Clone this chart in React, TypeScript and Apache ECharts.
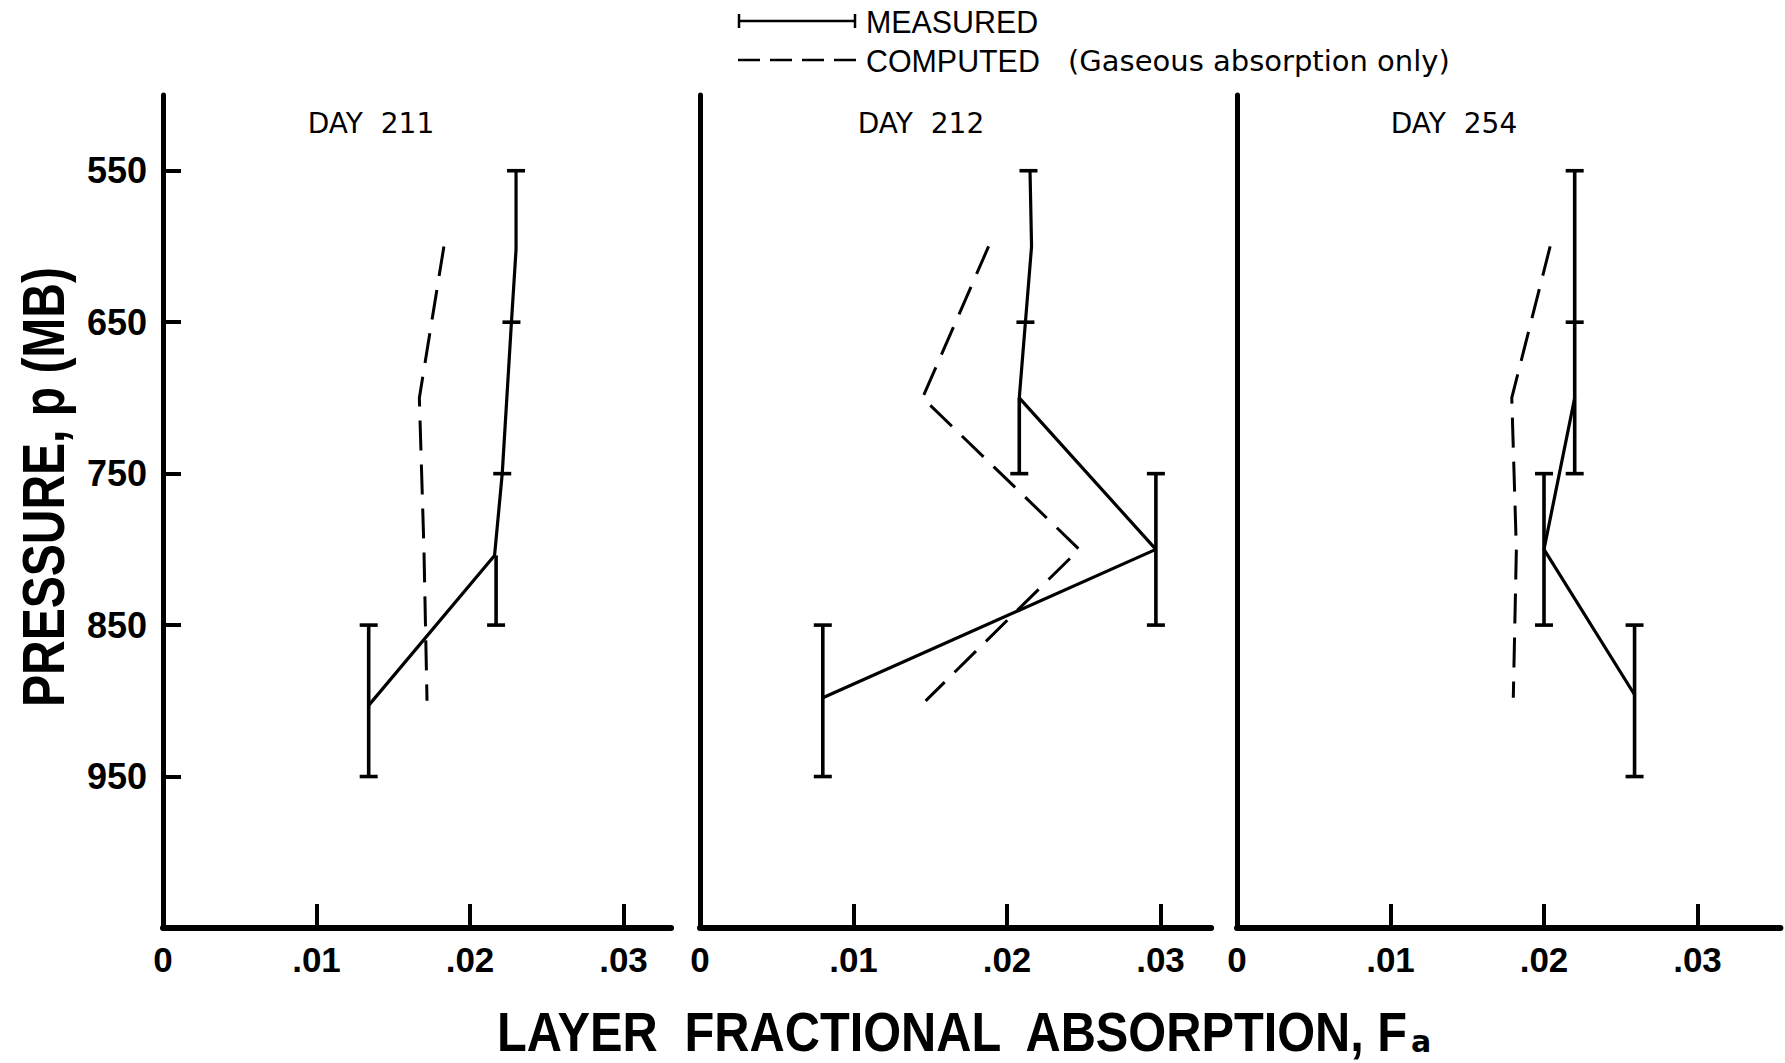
import React, { useEffect, useRef } from "react";
import * as echarts from "echarts";

// ---------- data ----------
const X_TICKS = [0.01, 0.02, 0.03];
const X_LABELS = [0, 0.01, 0.02, 0.03];
const P_TICKS = [550, 650, 750, 850, 950];
const P_MIN = 500;
const P_MAX = 1050;
const X_MAX = [0.0331, 0.0333, 0.0354];
const PANEL_TITLES = ["DAY  211", "DAY  212", "DAY  254"];

// measured (solid) polylines: [F_a, p]
const measured211 = [[0.0230, 550], [0.0230, 602], [0.0227, 650], [0.0221, 750], [0.0216, 804], [0.0134, 903]];
const measured212 = [[0.0215, 550], [0.0216, 600], [0.0212, 650], [0.0208, 700], [0.0297, 800], [0.0080, 898]];
const measured254 = [[0.0220, 700], [0.0200, 800], [0.0259, 896]];

// vertical bars: [F_a, pTop, pBottom]
const bars211 = [[0.0217, 804, 850], [0.0134, 850, 950]];
const bars212 = [[0.0208, 700, 750], [0.0297, 750, 850], [0.0080, 850, 950]];
const bars254 = [[0.0220, 550, 750], [0.0200, 750, 850], [0.0259, 850, 950]];

// cap / cross marks: [F_a, p]
const caps211 = [[0.0230, 550], [0.0227, 650], [0.0221, 750], [0.0217, 850], [0.0134, 850], [0.0134, 950]];
const caps212 = [[0.0214, 550], [0.0212, 650], [0.0208, 750], [0.0297, 750], [0.0297, 850], [0.0080, 850], [0.0080, 950]];
const caps254 = [[0.0220, 550], [0.0220, 650], [0.0220, 750], [0.0200, 750], [0.0200, 850], [0.0259, 850], [0.0259, 950]];

// computed (dashed): [F_a, p]
const computed211 = [[0.0183, 600], [0.0167, 700], [0.0170, 800], [0.0172, 900]];
const computed212 = [[0.0188, 600], [0.0145, 700], [0.0247, 800], [0.0147, 900]];
const computed254 = [[0.0204, 600], [0.0179, 700], [0.0182, 800], [0.0180, 898]];

const MEASURED = [measured211, measured212, measured254];
const BARS = [bars211, bars212, bars254];
const CAPS = [caps211, caps212, caps254];
const COMPUTED = [computed211, computed212, computed254];

// ---------- layout ----------
const PX_PER_UNIT = 15350;
const GRID_LEFT = [163, 700, 1237];
const GRID_TOP = 95;
const GRID_HEIGHT = 833;
const TITLE_X = [371, 921, 1454];
const BLACK = "#000";
const SANS = "'Liberation Sans', Arial, sans-serif";
const GEO = "'DejaVu Sans', sans-serif";

function fmtX(v: number) {
  if (v === 0) return "0";
  return v.toFixed(2).replace(/^0/, "");
}

function buildOption() {
  const grids: any[] = [];
  const xAxes: any[] = [];
  const yAxes: any[] = [];
  const series: any[] = [];

  for (let i = 0; i < 3; i++) {
    grids.push({
      left: GRID_LEFT[i],
      top: GRID_TOP,
      width: X_MAX[i] * PX_PER_UNIT,
      height: GRID_HEIGHT,
      containLabel: false,
    });
    xAxes.push({
      type: "value",
      gridIndex: i,
      min: 0,
      max: X_MAX[i],
      splitLine: { show: false },
      axisLine: { show: true, lineStyle: { color: BLACK, width: 6 } },
      axisTick: {
        show: true,
        inside: true,
        length: 24,
        customValues: X_TICKS,
        lineStyle: { color: BLACK, width: 4 },
      },
      axisLabel: {
        show: true,
        customValues: X_LABELS,
        formatter: (v: number) => fmtX(v),
        color: BLACK,
        fontFamily: SANS,
        fontWeight: "bold",
        fontSize: 35,
        margin: 14,
      },
    });
    yAxes.push({
      type: "value",
      gridIndex: i,
      inverse: true,
      min: P_MIN,
      max: P_MAX,
      splitLine: { show: false },
      axisLine: { show: true, onZero: false, lineStyle: { color: BLACK, width: 5 } },
      axisTick: {
        show: i === 0,
        inside: true,
        length: 18,
        customValues: P_TICKS,
        lineStyle: { color: BLACK, width: 4 },
      },
      axisLabel: {
        show: i === 0,
        customValues: P_TICKS,
        color: BLACK,
        fontFamily: SANS,
        fontWeight: "bold",
        fontSize: 36,
        margin: 16,
      },
    });

    series.push({
      type: "line",
      xAxisIndex: i,
      yAxisIndex: i,
      data: COMPUTED[i],
      symbol: "none",
      silent: true,
      lineStyle: { color: BLACK, width: 3, type: [30, 14] },
    });
    series.push({
      type: "line",
      xAxisIndex: i,
      yAxisIndex: i,
      data: MEASURED[i],
      symbol: "none",
      silent: true,
      lineStyle: { color: BLACK, width: 3.2 },
    });
    series.push({
      type: "custom",
      xAxisIndex: i,
      yAxisIndex: i,
      coordinateSystem: "cartesian2d",
      silent: true,
      clip: false,
      data: BARS[i],
      renderItem: (_p: any, api: any) => {
        const a = api.coord([api.value(0), api.value(1)]);
        const b = api.coord([api.value(0), api.value(2)]);
        return {
          type: "line",
          shape: { x1: a[0], y1: a[1], x2: b[0], y2: b[1] },
          style: { stroke: BLACK, lineWidth: 3.6 },
        };
      },
    });
    series.push({
      type: "custom",
      xAxisIndex: i,
      yAxisIndex: i,
      coordinateSystem: "cartesian2d",
      silent: true,
      clip: false,
      data: CAPS[i],
      renderItem: (_p: any, api: any) => {
        const c = api.coord([api.value(0), api.value(1)]);
        return {
          type: "line",
          shape: { x1: c[0] - 9, y1: c[1], x2: c[0] + 9, y2: c[1] },
          style: { stroke: BLACK, lineWidth: 3.6 },
        };
      },
    });
  }

  const graphic: any[] = [];
  // panel titles
  for (let i = 0; i < 3; i++) {
    graphic.push({
      type: "text",
      x: TITLE_X[i],
      y: 123,
      style: {
        text: PANEL_TITLES[i],
        fill: BLACK,
        font: `28px ${GEO}`,
        textAlign: "center",
        textVerticalAlign: "middle",
      },
    });
  }
  // legend
  graphic.push(
    { type: "line", shape: { x1: 738, y1: 21, x2: 856, y2: 21 }, style: { stroke: BLACK, lineWidth: 2.5 } },
    { type: "line", shape: { x1: 739, y1: 14, x2: 739, y2: 28 }, style: { stroke: BLACK, lineWidth: 2.5 } },
    { type: "line", shape: { x1: 855, y1: 14, x2: 855, y2: 28 }, style: { stroke: BLACK, lineWidth: 2.5 } },
    { type: "line", shape: { x1: 738, y1: 60, x2: 856, y2: 60 }, style: { stroke: BLACK, lineWidth: 2.5, lineDash: [22, 10] } },
    {
      type: "text", x: 866, y: 22, scaleX: 0.98,
      style: { text: "MEASURED", fill: BLACK, font: `31px ${SANS}`, textAlign: "left", textVerticalAlign: "middle" },
    },
    {
      type: "text", x: 866, y: 61, scaleX: 0.98,
      style: { text: "COMPUTED", fill: BLACK, font: `31px ${SANS}`, textAlign: "left", textVerticalAlign: "middle" },
    },
    {
      type: "text", x: 1068, y: 61, scaleX: 1.0,
      style: { text: "(Gaseous absorption only)", fill: BLACK, font: `29px ${GEO}`, textAlign: "left", textVerticalAlign: "middle" },
    }
  );
  // y-axis title
  graphic.push({
    type: "text",
    x: 44,
    y: 487,
    rotation: Math.PI / 2,
    scaleX: 0.8,
    style: {
      text: "PRESSURE, p (MB)",
      fill: BLACK,
      font: `bold 60px ${SANS}`,
      textAlign: "center",
      textVerticalAlign: "middle",
    },
  });
  // x-axis title
  graphic.push({
    type: "text",
    x: 952,
    y: 1031,
    scaleX: 0.87,
    style: {
      text: "LAYER  FRACTIONAL  ABSORPTION, F",
      fill: BLACK,
      font: `bold 56px ${SANS}`,
      textAlign: "center",
      textVerticalAlign: "middle",
    },
  });
  graphic.push({
    type: "text",
    x: 1421,
    y: 1041,
    style: {
      text: "a",
      fill: BLACK,
      font: `bold 30px ${GEO}`,
      textAlign: "center",
      textVerticalAlign: "middle",
    },
  });

  return {
    animation: false,
    backgroundColor: "#ffffff",
    grid: grids,
    xAxis: xAxes,
    yAxis: yAxes,
    series,
    graphic,
  };
}

export default function App() {
  const ref = useRef<HTMLDivElement>(null);
  useEffect(() => {
    if (!ref.current) return;
    const chart = echarts.init(ref.current, null, { renderer: "svg" });
    chart.setOption(buildOption() as any);
    return () => chart.dispose();
  }, []);
  return (
    <div
      ref={ref}
      style={{ position: "absolute", left: 0, top: 0, width: 1785, height: 1063, background: "#fff" }}
    />
  );
}
